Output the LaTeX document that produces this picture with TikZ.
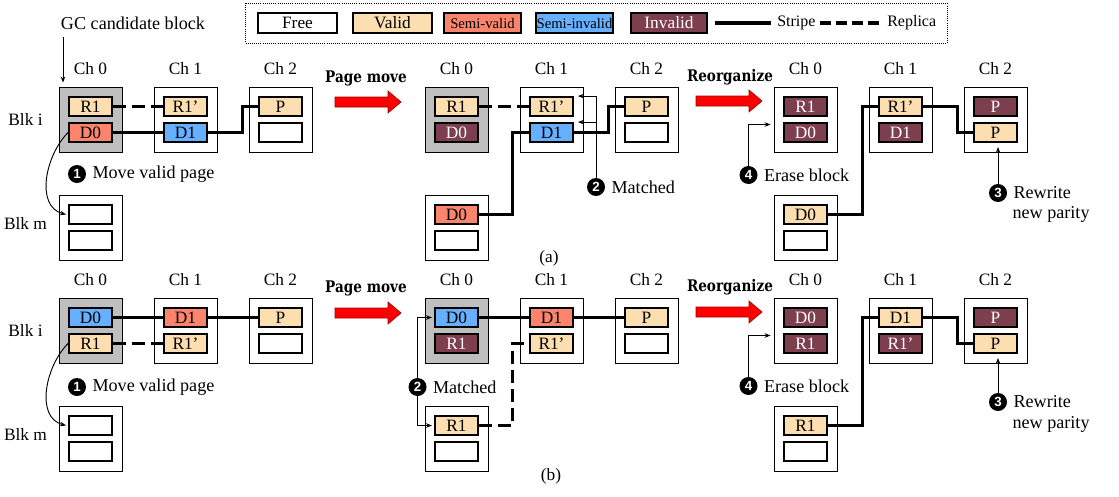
\documentclass[tikz,border=0pt]{standalone}
\usepackage{fontspec}
\setmainfont{Liberation Serif}
\setsansfont{Liberation Sans}
\newfontfamily\headfont[FakeStretch=0.85]{DejaVu Serif}
\usetikzlibrary{arrows.meta,calc}
\definecolor{cvalid}{RGB}{253,222,176}
\definecolor{csemival}{RGB}{250,132,108}
\definecolor{csemiinv}{RGB}{102,176,255}
\definecolor{cinv}{RGB}{125,62,78}
\definecolor{cgray}{RGB}{191,191,191}
\definecolor{cred}{RGB}{255,0,0}
\definecolor{cdarkred}{RGB}{160,0,0}
\tikzset{
 page/.style={draw=black, line width=1.4pt, minimum width=32.25pt, minimum height=14.25pt, inner sep=0pt, font=\fontsize{13}{13}\selectfont, fill=white},
 free/.style={fill=white},
 valid/.style={fill=cvalid},
 semival/.style={fill=csemival},
 semiinv/.style={fill=csemiinv},
 inval/.style={fill=cinv, text=white},
 blockbox/.style={draw=black, line width=0.7pt, minimum width=47.25pt, minimum height=48.75pt, inner sep=0pt},
 stripe/.style={line width=2.3pt},
 replica/.style={line width=2.3pt, dash pattern=on 9.75pt off 4.5pt},
 lbl/.style={font=\fontsize{13}{13}\selectfont, inner sep=0pt},
 ann/.style={font=\fontsize{13.6}{13.6}\selectfont, inner sep=0pt, anchor=west},
 numc/.style={circle, fill=black, text=white, inner sep=0pt, minimum size=13.5pt, font=\sffamily\bfseries\fontsize{10}{10}\selectfont},
 thinarrow/.style={line width=0.7pt, -{Stealth[length=4.5pt,width=3.4pt]}},
 headlbl/.style={font=\headfont\bfseries\fontsize{12}{12}\selectfont, inner sep=0pt},
 legbox/.style={draw=black, line width=1.4pt, minimum height=15pt, inner sep=0pt, font=\fontsize{13}{13}\selectfont},
 legtxt/.style={anchor=west, inner sep=0pt, font=\fontsize{12}{12}\selectfont},
}
\newcommand\blk[8]{%
 \node[blockbox,#4] (#1) at (#2+31.5,#3+32.5) {};
 \node[page,#5] (#1a) at (#2+31.5,#3+19.5) {#6};
 \node[page,#7] (#1b) at (#2+31.5,#3+45.5) {#8};}
\newcommand\redarrow[2]{%
 \filldraw[fill=cred,draw=cdarkred,line width=0.5pt] (#1,#2-5) -- (#1+53,#2-5) -- (#1+53,#2-11) -- (#1+66,#2) -- (#1+53,#2+11) -- (#1+53,#2+5) -- (#1,#2+5) -- cycle;}
\begin{document}
\begin{tikzpicture}[x=0.75pt,y=-0.75pt]
\useasboundingbox (0,0) rectangle (1119,496);
% ---------- legend ----------
\draw[densely dotted, line width=0.6pt] (245,3) rectangle (947,43);
\node[legbox, fill=white, minimum width=59.25pt] (lgfree) at (297.5,23) {Free};
\node[legbox, valid, minimum width=59.25pt] (lgvalid) at (392.5,23) {Valid};
\node[legbox, semival, minimum width=57.75pt, font=\fontsize{11}{11}\selectfont] (lgsv) at (482.5,23) {Semi-valid};
\node[legbox, semiinv, minimum width=57.75pt, font=\fontsize{11}{11}\selectfont] (lgsi) at (574.5,23) {Semi-invalid};
\node[legbox, inval, minimum width=57pt] (lginv) at (669,23) {Invalid};
\coordinate (ls1) at (715,23); \coordinate (ls2) at (771,23);
\draw[stripe] (ls1) -- (ls2);
\node[legtxt] (lgst) at (777,23) {Stripe};
\coordinate (lr1) at (820,23); \coordinate (lr2) at (882,23);
\draw[line width=2.3pt, dash pattern=on 8.25pt off 3.75pt] (lr1) -- (lr2);
\node[legtxt] (lgrep) at (887,23) {Replica};
% ---------- (a) blocks ----------
\blk{aL0}{59}{87}{fill=cgray}{valid}{R1}{semival}{D0}
\blk{aL1}{154}{87}{fill=white}{valid}{R1’}{semiinv}{D1}
\blk{aL2}{249}{87}{fill=white}{valid}{P}{free}{}
\blk{aLm}{59}{195}{fill=white}{free}{}{free}{}
\blk{aM0}{425}{87}{fill=cgray}{valid}{R1}{inval}{D0}
\blk{aM1}{520}{87}{fill=white}{valid}{R1’}{semiinv}{D1}
\blk{aM2}{615}{87}{fill=white}{valid}{P}{free}{}
\blk{aMm}{425}{195}{fill=white}{semival}{D0}{free}{}
\blk{aR0}{774}{87}{fill=white}{inval}{R1}{inval}{D0}
\blk{aR1}{869}{87}{fill=white}{valid}{R1’}{inval}{D1}
\blk{aR2}{964}{87}{fill=white}{inval}{P}{valid}{P}
\blk{aRm}{774}{195}{fill=white}{valid}{D0}{free}{}
% ---------- (b) blocks ----------
\blk{bL0}{59}{298}{fill=cgray}{semiinv}{D0}{valid}{R1}
\blk{bL1}{154}{298}{fill=white}{semival}{D1}{valid}{R1’}
\blk{bL2}{249}{298}{fill=white}{valid}{P}{free}{}
\blk{bLm}{59}{406}{fill=white}{free}{}{free}{}
\blk{bM0}{425}{298}{fill=cgray}{semiinv}{D0}{inval}{R1}
\blk{bM1}{520}{298}{fill=white}{semival}{D1}{valid}{R1’}
\blk{bM2}{615}{298}{fill=white}{valid}{P}{free}{}
\blk{bMm}{425}{406}{fill=white}{valid}{R1}{free}{}
\blk{bR0}{774}{298}{fill=white}{inval}{D0}{inval}{R1}
\blk{bR1}{869}{298}{fill=white}{valid}{D1}{inval}{R1’}
\blk{bR2}{964}{298}{fill=white}{inval}{P}{valid}{P}
\blk{bRm}{774}{406}{fill=white}{valid}{R1}{free}{}
% ---------- channel labels ----------
\foreach \p in {aL,aM,aR,bL,bM,bR}{
 \node[lbl] (\p ch0) at ($(\p0.north)+(0,-18)$) {Ch 0};
 \node[lbl] (\p ch1) at ($(\p1.north)+(0,-18)$) {Ch 1};
 \node[lbl] (\p ch2) at ($(\p2.north)+(0,-18)$) {Ch 2};
}
\node[lbl] (aBi) at ($(aL0.west)+(-33,0)$) {Blk i};
\node[lbl] (aBm) at ($(aLm.west)+(-33,-4)$) {Blk m};
\node[lbl] (bBi) at ($(bL0.west)+(-33,0)$) {Blk i};
\node[lbl] (bBm) at ($(bLm.west)+(-33,-4)$) {Blk m};
% ---------- GC candidate ----------
\node[ann, anchor=center] (gc) at (133,23) {GC candidate block};
\coordinate (gcs) at (63,37);
\coordinate (gce) at ($(aL0.north west)+(4,-4)$);
\draw[thinarrow] (gcs) -- (gcs |- gce);
% ---------- titles & red arrows ----------
\node[headlbl] (pm1) at (366,78) {Page move};
\node[headlbl] (pm2) at (366,288) {Page move};
\node[headlbl] (ro1) at (730,77) {Reorganize};
\node[headlbl] (ro2) at (730,287) {Reorganize};
\redarrow{335}{102}
\redarrow{335}{313}
\redarrow{696}{101}
\redarrow{696}{312}
\node[lbl] (capa) at (549,258) {(a)};
\node[lbl] (capb) at (551,476) {(b)};
% ---------- (a) connectors ----------
\draw[replica] (aL0a.east) -- (aL1a.west);
\draw[stripe] (aL0b.east) -- (aL1b.west);
\draw[stripe] (aL1b.east) -| ($(aL2a.west)+(-16,0)$) -- (aL2a.west);
\draw[replica] (aM0a.east) -- (aM1a.west);
\draw[stripe] (aMma.east) -| ($(aM1b.west)+(-17,0)$) -- (aM1b.west);
\draw[stripe] (aM1b.east) -| ($(aM2a.west)+(-16,0)$) -- (aM2a.west);
\draw[stripe] (aRma.east) -| ($(aR1a.west)+(-16,0)$) -- (aR1a.west);
\draw[stripe] (aR1a.east) -| ($(aR2b.west)+(-16,0)$) -- (aR2b.west);
% ---------- (b) connectors ----------
\draw[stripe] (bL0a.east) -- (bL1a.west);
\draw[stripe] (bL1a.east) -- (bL2a.west);
\draw[replica] (bL0b.east) -- (bL1b.west);
\draw[stripe] (bM0a.east) -- (bM1a.west);
\draw[stripe] (bM1a.east) -- (bM2a.west);
\draw[replica] (bMma.east) -| ($(bM1b.west)+(-17,0)$) -- (bM1b.west);
\draw[stripe] (bRma.east) -| ($(bR1a.west)+(-16,0)$) -- (bR1a.west);
\draw[stripe] (bR1a.east) -| ($(bR2b.west)+(-16,0)$) -- (bR2b.west);
% ---------- (a) annotations ----------
\draw[thinarrow] (aL0b.west) to[out=225,in=165,looseness=1] ($(aLma.west)+(-2,0)$);
\node[numc] (aS1) at (77,174) {1};
\node[ann] (aT1txt) at ($(aS1.east)+(6,0)$) {Move valid page};
\coordinate (aM1t) at ($(aM1a.north east)+(4,0)$);
\coordinate (aM1u) at ($(aM1b.north east)+(4,0)$);
\node[numc] (aS2) at (596,187) {2};
\draw[thinarrow] (aS2) |- (aM1t);
\draw[thinarrow] (aS2) |- (aM1u);
\node[ann] (aT2txt) at ($(aS2.east)+(6,0)$) {Matched};
\node[numc] (aS4) at (748.5,175) {4};
\coordinate (aR0t) at ($(aR0.west)+(-3,5)$);
\draw[thinarrow] (aS4) |- (aR0t);
\node[ann] (aT4txt) at ($(aS4.east)+(6,0)$) {Erase block};
\node[numc] (aS3) at (998,193) {3};
\coordinate (aR2t) at ($(aR2b.south)+(0,4)$);
\draw[thinarrow] (aS3) -- (aS3 |- aR2t);
\node[ann] (aT3txt) at ($(aS3.east)+(6,0)$) {Rewrite};
\node[ann] (aT3txt2) at ($(aS3.east)+(5,21)$) {new parity};
% ---------- (b) annotations ----------
\draw[thinarrow] (bL0b.west) to[out=225,in=165,looseness=1] ($(bLma.west)+(-2,0)$);
\node[numc] (bS1) at (77,387) {1};
\node[ann] (bT1txt) at ($(bS1.east)+(6,0)$) {Move valid page};
\coordinate (bM0t) at ($(bM0a.west)+(-2,0)$);
\coordinate (bMmt) at ($(bMma.west)+(-2,0)$);
\node[numc] (bS2) at (417.5,387) {2};
\draw[thinarrow] (bS2) |- (bM0t);
\draw[thinarrow] (bS2) |- (bMmt);
\node[ann] (bT2txt) at ($(bS2.east)+(6,0)$) {Matched};
\node[numc] (bS4) at (748.5,386) {4};
\coordinate (bR0t) at ($(bR0.west)+(-3,5)$);
\draw[thinarrow] (bS4) |- (bR0t);
\node[ann] (bT4txt) at ($(bS4.east)+(6,0)$) {Erase block};
\node[numc] (bS3) at (998,402) {3};
\coordinate (bR2t) at ($(bR2b.south)+(0,4)$);
\draw[thinarrow] (bS3) -- (bS3 |- bR2t);
\node[ann] (bT3txt) at ($(bS3.east)+(6,0)$) {Rewrite};
\node[ann] (bT3txt2) at ($(bS3.east)+(5,22)$) {new parity};
\end{tikzpicture}
\end{document}
